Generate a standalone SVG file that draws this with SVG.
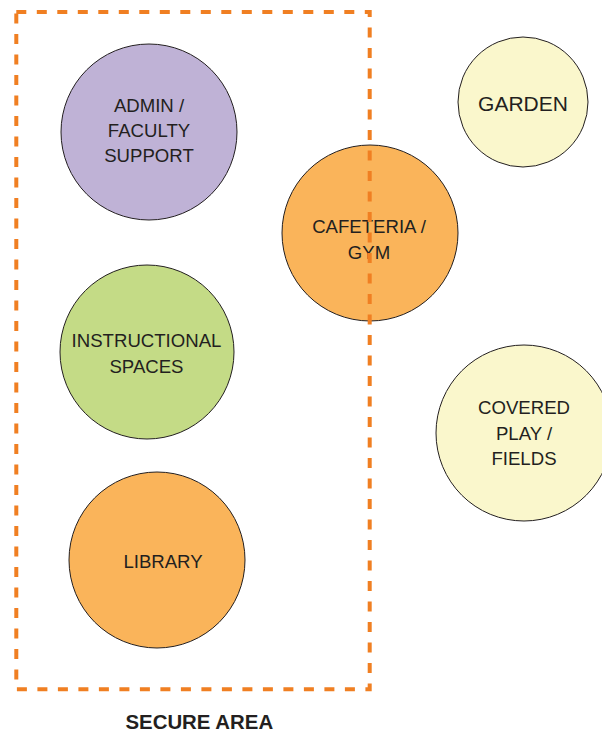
<svg xmlns="http://www.w3.org/2000/svg" width="602" height="734" viewBox="0 0 602 734">
<style>
.n{stroke:#231F20;stroke-width:1}
.t{font-family:"Liberation Sans",Arial,sans-serif;font-size:18.6px;fill:#231F20;text-anchor:middle}
.zone{fill:none;stroke:#F07F22;stroke-width:4;stroke-dasharray:10 10.5}
</style>
<rect width="602" height="734" fill="#FFFFFF"/>
<g id="admin"><circle class="n" cx="149" cy="132" r="88" fill="#BFB2D6"/>
<text class="t" x="149" y="112">ADMIN /</text><text class="t" x="149" y="137">FACULTY</text><text class="t" x="149" y="162">SUPPORT</text></g>
<g id="instructional"><circle class="n" cx="147" cy="352" r="87" fill="#C4DB86"/>
<text class="t" x="146.5" y="347">INSTRUCTIONAL</text><text class="t" x="146.5" y="373">SPACES</text></g>
<g id="library"><circle class="n" cx="157" cy="560" r="88" fill="#FAB45A"/>
<text class="t" x="163" y="568">LIBRARY</text></g>
<g id="cafeteria"><circle class="n" cx="370" cy="233" r="88" fill="#FAB45A"/>
<text class="t" x="369" y="233">CAFETERIA /</text><text class="t" x="369" y="259">GYM</text></g>
<g id="garden"><circle class="n" cx="523" cy="102" r="65" fill="#FAF7CC"/>
<text class="t" x="523" y="111" style="font-size:21px">GARDEN</text></g>
<g id="covered"><circle class="n" cx="524" cy="433" r="88" fill="#FAF7CC"/>
<text class="t" x="524" y="414">COVERED</text><text class="t" x="524" y="439.5">PLAY /</text><text class="t" x="524" y="464.5">FIELDS</text></g>
<g id="secure-area"><rect class="zone" x="16.3" y="12" width="353.4" height="677.3"/>
<text x="199.3" y="729" style="font-family:'Liberation Sans',Arial,sans-serif;font-size:20.4px;font-weight:bold;fill:#231F20;text-anchor:middle">SECURE AREA</text></g>
</svg>
